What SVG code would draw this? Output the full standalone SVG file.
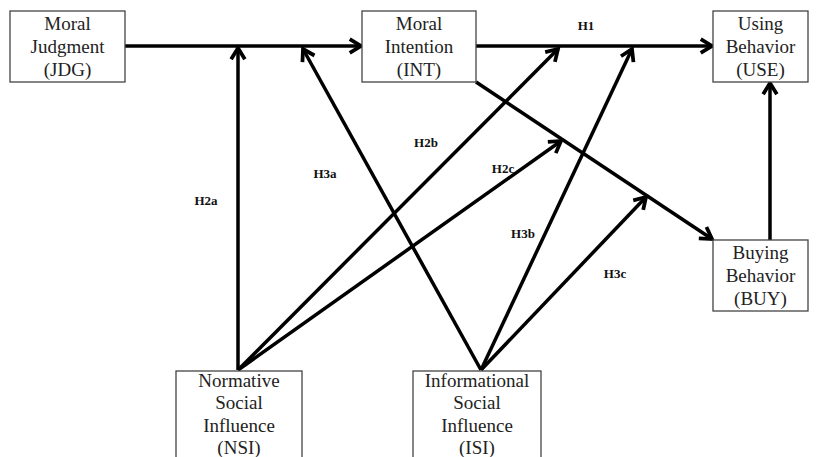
<svg xmlns="http://www.w3.org/2000/svg" width="819" height="457" viewBox="0 0 819 457">
<style>
.box{fill:#fff;stroke:#444;stroke-width:1.3}
.t{font-family:"Liberation Serif","Times New Roman",serif;font-size:19px;fill:#222;text-anchor:middle}
.lb{font-family:"Liberation Serif","Times New Roman",serif;font-size:13px;font-weight:bold;fill:#111;text-anchor:middle}
.c{stroke:#000;stroke-width:3.5;fill:none;marker-end:url(#ah)}
</style>
<defs>
<marker id="ah" markerUnits="userSpaceOnUse" markerWidth="20" markerHeight="20" refX="0" refY="0" viewBox="-12 -8 14 16" orient="auto">
<path d="M-9,-5.5 L0,0 L-9,5.5" fill="none" stroke="#000" stroke-width="3"/>
</marker>
</defs>
<rect width="819" height="457" fill="#fff"/>
<g id="connectors">
<line class="c" x1="125" y1="46" x2="361" y2="46"/>
<line class="c" x1="476" y1="46" x2="712" y2="46"/>
<line class="c" x1="238" y1="370" x2="238" y2="48"/>
<line class="c" x1="481" y1="370" x2="303" y2="49"/>
<line class="c" x1="238" y1="370" x2="558" y2="49"/>
<line class="c" x1="481" y1="370" x2="632" y2="49"/>
<line class="c" x1="476" y1="82" x2="712" y2="239"/>
<line class="c" x1="238" y1="370" x2="561" y2="141"/>
<line class="c" x1="481" y1="370" x2="646" y2="197"/>
<line class="c" x1="770" y1="240" x2="770" y2="83"/>
</g>
<g id="labels">
<text class="lb" x="586" y="30">H1</text>
<text class="lb" x="206" y="205">H2a</text>
<text class="lb" x="426" y="147">H2b</text>
<text class="lb" x="503" y="173">H2c</text>
<text class="lb" x="325" y="178">H3a</text>
<text class="lb" x="523" y="238">H3b</text>
<text class="lb" x="615" y="278">H3c</text>
</g>
<g id="JDG">
<rect class="box" x="10" y="11" width="115" height="71"/>
<text class="t" x="67.5" y="30">Moral</text>
<text class="t" x="67.5" y="53">Judgment</text>
<text class="t" x="67.5" y="76">(JDG)</text>
</g>
<g id="INT">
<rect class="box" x="362" y="11" width="114" height="71"/>
<text class="t" x="419" y="30">Moral</text>
<text class="t" x="419" y="53">Intention</text>
<text class="t" x="419" y="76">(INT)</text>
</g>
<g id="USE">
<rect class="box" x="713" y="11" width="95" height="71"/>
<text class="t" x="760.5" y="30">Using</text>
<text class="t" x="760.5" y="53">Behavior</text>
<text class="t" x="760.5" y="76">(USE)</text>
</g>
<g id="BUY">
<rect class="box" x="713" y="240" width="95" height="71"/>
<text class="t" x="760.5" y="259">Buying</text>
<text class="t" x="760.5" y="282">Behavior</text>
<text class="t" x="760.5" y="305">(BUY)</text>
</g>
<g id="NSI">
<rect class="box" x="176" y="371" width="126" height="100"/>
<text class="t" x="239" y="387">Normative</text>
<text class="t" x="239" y="409">Social</text>
<text class="t" x="239" y="432">Influence</text>
<text class="t" x="239" y="454">(NSI)</text>
</g>
<g id="ISI">
<rect class="box" x="413" y="371" width="128" height="100"/>
<text class="t" x="477" y="387">Informational</text>
<text class="t" x="477" y="409">Social</text>
<text class="t" x="477" y="432">Influence</text>
<text class="t" x="477" y="454">(ISI)</text>
</g>
</svg>
